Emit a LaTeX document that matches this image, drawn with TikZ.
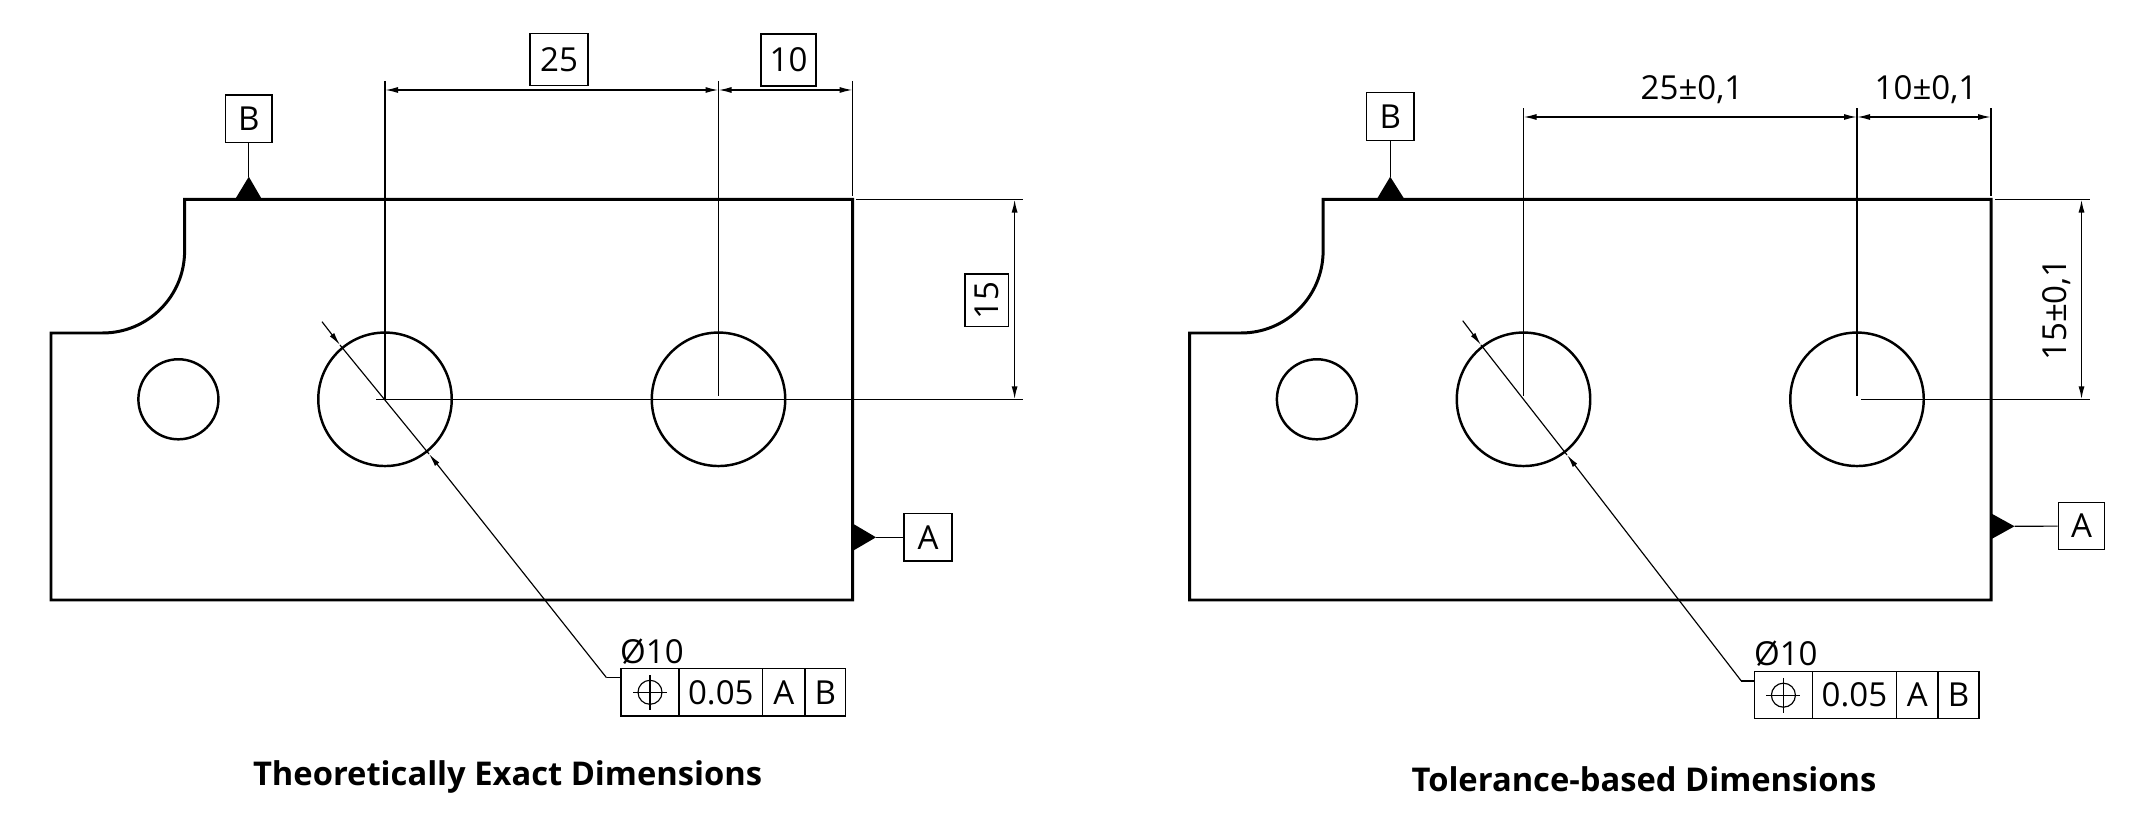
\documentclass[tikz,border=0pt]{standalone}
\usepackage{fontspec}
\setmainfont{Open Sans}
\usetikzlibrary{arrows.meta}
\tikzset{
    outline/.style = {line width = 0.85pt, line join = miter},
    thinline/.style = {line width = 0.33pt},
    datumline/.style = {line width = 0.42pt},
    dimline/.style = {line width = 0.42pt, {Latex[length=0.13cm,width=0.06cm]}-{Latex[length=0.13cm,width=0.06cm]}},
    leaderhead/.style = {line width = 0.33pt, -{Latex[length=0.13cm,width=0.055cm]}},
    hole/.style = {circle, draw, line width = 0.7pt, inner sep = 0pt},
    label/.style = {inner sep = 0pt, anchor = base, font = \fontsize{9.4pt}{11pt}\selectfont},
    framed/.style = {rectangle, draw, line width = 0.38pt, inner sep = 0pt, text height = 6.7pt, text depth = 0pt, font = \fontsize{9.4pt}{11pt}\selectfont},
    caption/.style = {inner sep = 0pt, anchor = base, font = \fontsize{9.3pt}{11pt}\selectfont\bfseries}
}
\begin{document}
\begin{tikzpicture}[x = 0.01cm, y = -0.01cm]
\useasboundingbox (0,0) rectangle (2143,834);
% part outlines
\foreach \dx in {0,1138.5} {
    \draw[outline] (51+\dx,333) -- (102.6+\dx,333) .. controls (147.9+\dx,333) and (184.6+\dx,296.3) .. (184.6+\dx,251)
        -- (184.6+\dx,199.5) -- (852.6+\dx,199.5) -- (852.6+\dx,600) -- (51+\dx,600) -- cycle;
}
% left part
\draw (178.4,399.3) node[hole, minimum size = 0.8cm](a1){}
    (385,399.3) node[hole, minimum size = 1.334cm](a2){}
    (718.5,399.3) node[hole, minimum size = 1.334cm](a3){};
\coordinate (a4) at (385,81);
\coordinate (a5) at (718.5,81);
\coordinate (a6) at (852.6,81);
\coordinate (a7) at (718.5,396);
\coordinate (a8) at (852.6,196);
\coordinate (a9) at (376,399.3);
\coordinate (a10) at (1023,399.3);
\coordinate (a11) at (856,199.5);
\coordinate (a12) at (1023,199.5);
\draw[thinline] (a4) -- (a2.center);
\draw[thinline] (a5) -- (a7);
\draw[thinline] (a6) -- (a8);
\draw[datumline] (a9) -- (a10);
\draw[thinline] (a11) -- (a12);
\coordinate (d1) at (385,90);
\coordinate (d2) at (718.5,90);
\coordinate (d3) at (852.6,90);
\coordinate (d4) at (1014.6,199.5);
\coordinate (d5) at (1014.6,399.3);
\draw[dimline] (d1) -- (d2);
\draw[dimline] (d2) -- (d3);
\draw[dimline] (d4) -- (d5);
\draw (559,59.5) node[framed, minimum width = 0.58cm, minimum height = 0.524cm](b1){25}
    (788.5,60) node[framed, minimum width = 0.55cm, minimum height = 0.52cm](b2){10}
    (986.7,300.3) node[framed, rotate = 90, minimum width = 0.527cm, minimum height = 0.435cm](b3){15}
    (248.8,118.8) node[framed, minimum width = 0.464cm, minimum height = 0.477cm](b4){B}
    (928,537.3) node[framed, minimum width = 0.477cm, minimum height = 0.473cm](b5){A};
\coordinate (t1) at (248.8,176.7);
\coordinate (t2) at (876,537.3);
\fill (t1) -- (262,199.5) -- (235,199.5) -- cycle;
\fill (t2) -- (852.6,551) -- (852.6,523.5) -- cycle;
\draw[thinline] (b4) -- (t1);
\draw[thinline] (b5) -- (t2);
\draw (650,692.3) node[framed, minimum width = 0.583cm, minimum height = 0.473cm](f1){}
    (720.8,692.3) node[framed, minimum width = 0.837cm, minimum height = 0.473cm](f2){0.05}
    (783.9,692.3) node[framed, minimum width = 0.423cm, minimum height = 0.473cm](f3){A}
    (825.4,692.3) node[framed, minimum width = 0.407cm, minimum height = 0.473cm](f4){B};
\draw (f1.center) node[circle, draw, thinline, minimum size = 0.24cm, inner sep = 0pt](f5){};
\draw[thinline] (633,692.3) -- (667,692.3) (650,675) -- (650,709.6);
\draw (619.5,663) node[label, anchor = base west](f6){Ø10};
\coordinate (l1) at (322,321.7);
\coordinate (l2) at (340,345);
\coordinate (l3) at (429,454);
\coordinate (l4) at (606.5,677.7);
\coordinate (l5) at (620.7,677.7);
\draw[leaderhead] (l1) -- (l2);
\draw[thinline] (l2) -- (l3);
\draw[leaderhead] (l4) -- (l3);
\draw[thinline] (l4) -- (l5);
\draw (507.6,785.7) node[caption](c1){Theoretically Exact Dimensions};
% right part
\draw (1316.9,399.3) node[hole, minimum size = 0.8cm](e1){}
    (1523.5,399.3) node[hole, minimum size = 1.334cm](e2){}
    (1857,399.3) node[hole, minimum size = 1.334cm](e3){};
\coordinate (e4) at (1523.5,108.3);
\coordinate (e5) at (1857,108.3);
\coordinate (e6) at (1991,108.3);
\coordinate (e7) at (1523.5,396);
\coordinate (e8) at (1857,396);
\coordinate (e9) at (1991,196);
\coordinate (e10) at (1861,399.3);
\coordinate (e11) at (2090,399.3);
\coordinate (e12) at (1995,199.5);
\coordinate (e13) at (2090,199.5);
\draw[thinline] (e4) -- (e7);
\draw[thinline] (e5) -- (e8);
\draw[thinline] (e6) -- (e9);
\draw[datumline] (e10) -- (e11);
\draw[thinline] (e12) -- (e13);
\coordinate (g1) at (1523.5,117);
\coordinate (g2) at (1857,117);
\coordinate (g3) at (1991,117);
\coordinate (g4) at (2081.5,199.5);
\coordinate (g5) at (2081.5,399.3);
\draw[dimline] (g1) -- (g2);
\draw[dimline] (g2) -- (g3);
\draw[dimline] (g4) -- (g5);
\draw (1692,99.3) node[label](h1){25±0,1}
    (1926,99.3) node[label](h2){10±0,1}
    (2066,309.5) node[label, rotate = 90](h3){15±0,1};
\draw (1390.2,116.7) node[framed, minimum width = 0.476cm, minimum height = 0.48cm](h4){B}
    (2081.5,526) node[framed, minimum width = 0.464cm, minimum height = 0.474cm](h5){A};
\coordinate (s1) at (1390.2,176.7);
\coordinate (s2) at (2014.5,526.3);
\fill (s1) -- (1404.6,199.5) -- (1376.6,199.5) -- cycle;
\fill (s2) -- (1991,539.3) -- (1991,513.3) -- cycle;
\draw[thinline] (h4) -- (s1);
\draw[thinline] (h5) -- (s2);
\draw (1783.4,695.2) node[framed, minimum width = 0.581cm, minimum height = 0.47cm](k1){}
    (1854.4,695.2) node[framed, minimum width = 0.84cm, minimum height = 0.47cm](k2){0.05}
    (1917.2,695.2) node[framed, minimum width = 0.416cm, minimum height = 0.47cm](k3){A}
    (1958.5,695.2) node[framed, minimum width = 0.41cm, minimum height = 0.47cm](k4){B};
\draw (k1.center) node[circle, draw, thinline, minimum size = 0.24cm, inner sep = 0pt](k5){};
\draw[thinline] (1766.4,695.2) -- (1800.4,695.2) (1783.4,677.9) -- (1783.4,712.5);
\draw (1753.3,666) node[label, anchor = base west](k6){Ø10};
\coordinate (m1) at (1462.7,320.7);
\coordinate (m2) at (1481,345);
\coordinate (m3) at (1567,455);
\coordinate (m4) at (1741.3,681);
\coordinate (m5) at (1754.3,681);
\draw[leaderhead] (m1) -- (m2);
\draw[thinline] (m2) -- (m3);
\draw[leaderhead] (m4) -- (m3);
\draw[thinline] (m4) -- (m5);
\draw (1644,791.7) node[caption](c2){Tolerance-based Dimensions};
\end{tikzpicture}
\end{document}
